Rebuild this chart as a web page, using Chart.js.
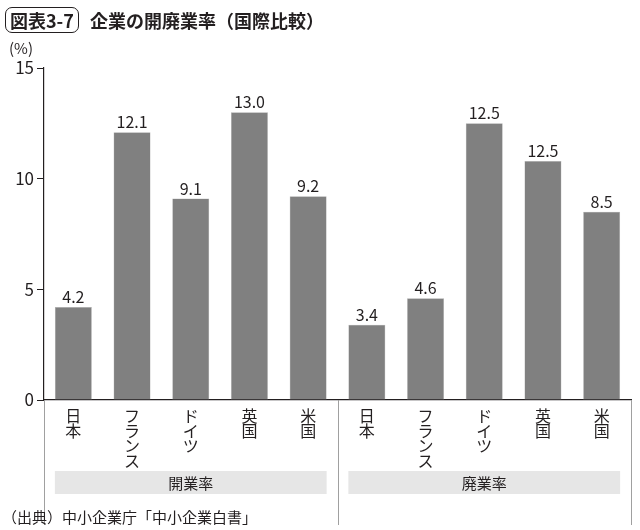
<!DOCTYPE html>
<html lang="ja">
<head>
    <meta charset="UTF-8" />
    <title>企業の開廃業率（国際比較）</title>
    <script src="https://cdn.jsdelivr.net/npm/chart.js"></script>
    <style>
        body {
            margin: 0;
            background: #fff;
            font-family: 'Noto Sans CJK JP', sans-serif;
            color: #231f20;
        }

        .wrap {
            position: relative;
            width: 640px;
            height: 530px;
        }

        .badge {
            position: absolute;
            left: 5px;
            top: 7px;
            height: 24px;
            line-height: 24px;
            padding: 0 4px;
            border: 1.5px solid #231f20;
            border-radius: 7px;
            font-weight: bold;
            font-size: 18px;
        }

        .title {
            position: absolute;
            left: 90px;
            top: 7px;
            line-height: 26px;
            font-weight: bold;
            font-size: 18px;
        }

        .unit {
            position: absolute;
            left: 9px;
            top: 37px;
            font-size: 15px;
        }

        .source {
            position: absolute;
            left: 2px;
            top: 506px;
            font-size: 15px;
        }

        canvas { position: absolute; left: 0; top: 0; }
    </style>
</head>
<body>
    <div class="wrap">
        <canvas id="chart" width="640" height="530"></canvas>
        <div class="badge">図表3-7</div>
        <div class="title">企業の開廃業率（国際比較）</div>
        <div class="unit">(%)</div>
        <div class="source">（出典）中小企業庁「中小企業白書」</div>
    </div>

    <script>
        // 国名（縦書き風に1文字ずつ）
        const countries = ['日本', 'フランス', 'ドイツ', '英国', '米国'];
        const groups = ['開業率', '廃業率'];

        // 棒の高さ
        const openRates = [4.2, 12.1, 9.1, 13.0, 9.2];
        const closeRates = [3.4, 4.6, 12.5, 10.8, 8.5];

        // 棒の上に表示されている数値
        const openLabels = ['4.2', '12.1', '9.1', '13.0', '9.2'];
        const closeLabels = ['3.4', '4.6', '12.5', '12.5', '8.5'];

        const yTicks = [0, 5, 10, 15];

        const labels = [...countries, ...countries].map(c => c.split(''));
        const values = [...openRates, ...closeRates];
        const valueLabels = [...openLabels, ...closeLabels];

        const font = "'Noto Sans CJK JP', sans-serif";

        const decor = {
            id: 'decor',
            afterDatasetsDraw(chart) {
                const ctx = chart.ctx;
                const meta = chart.getDatasetMeta(0);
                const x = chart.scales.x;
                const area = chart.chartArea;

                // 数値ラベル
                ctx.save();
                ctx.fillStyle = '#231f20';
                ctx.font = '16px ' + font;
                ctx.textAlign = 'center';
                ctx.textBaseline = 'bottom';
                meta.data.forEach((bar, i) => {
                    ctx.fillText(valueLabels[i], bar.x, bar.y - 2);
                });

                // 区切り線
                ctx.strokeStyle = '#a0a0a0';
                ctx.lineWidth = 1;
                [x.getPixelForValue(-0.5), x.getPixelForValue(4.5), x.getPixelForValue(9.5)].forEach(px => {
                    ctx.beginPath();
                    ctx.moveTo(Math.round(px) + 0.5, area.bottom);
                    ctx.lineTo(Math.round(px) + 0.5, 525);
                    ctx.stroke();
                });

                // グループ名の帯
                groups.forEach((g, gi) => {
                    const first = meta.data[gi * 5];
                    const last = meta.data[gi * 5 + 4];
                    const left = first.x - first.width / 2;
                    const right = last.x + last.width / 2;
                    ctx.fillStyle = '#e6e6e6';
                    ctx.fillRect(left, 471, right - left, 23);
                    ctx.fillStyle = '#231f20';
                    ctx.font = '15px ' + font;
                    ctx.textBaseline = 'middle';
                    ctx.fillText(g, (left + right) / 2, 483);
                });
                ctx.restore();
            }
        };

        new Chart(document.getElementById('chart'), {
            type: 'bar',
            data: {
                labels: labels,
                datasets: [{
                    data: values,
                    backgroundColor: '#808080',
                    borderColor: '#b0b0b0',
                    borderWidth: 0.5,
                    barPercentage: 0.63,
                    categoryPercentage: 1
                }]
            },
            options: {
                responsive: false,
                animation: false,
                layout: { padding: { top: 68, right: 9, left: 0, bottom: 0 } },
                plugins: {
                    legend: { display: false },
                    tooltip: { enabled: false }
                },
                scales: {
                    x: {
                        afterFit: s => { s.height = 130; },
                        grid: { display: false },
                        border: { color: '#231f20', width: 1.2 },
                        ticks: {
                            color: '#231f20',
                            maxRotation: 0,
                            autoSkip: false,
                            padding: 0,
                            font: { family: font, size: 16, lineHeight: 0.95 }
                        }
                    },
                    y: {
                        min: 0,
                        max: 15,
                        afterFit: s => { s.width = 44; },
                        afterBuildTicks: s => { s.ticks = yTicks.map(v => ({ value: v })); },
                        grid: {
                            drawOnChartArea: false,
                            tickLength: 7,
                            color: '#231f20'
                        },
                        border: { color: '#231f20', width: 1.2 },
                        ticks: {
                            color: '#231f20',
                            padding: 3,
                            font: { family: font, size: 17 }
                        }
                    }
                }
            },
            plugins: [decor]
        });
    </script>
</body>
</html>
